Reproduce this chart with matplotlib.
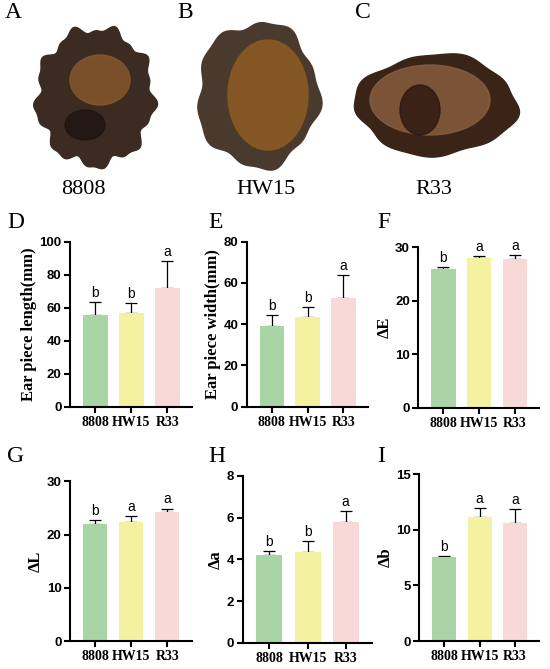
import numpy as np
import matplotlib.pyplot as plt
from matplotlib.patches import Polygon, Ellipse

# strains and bar colours
strains = ["8808", "HW15", "R33"]
bar_colors = ["#a8d4a6", "#f4f2a0", "#f9d8d8"]

# means, upper error (SD) and significance letters
length_mean = [55.8, 56.6, 71.9]
length_sd = [7.5, 6.1, 16.2]
length_sig = ["b", "b", "a"]

width_mean = [39.3, 43.3, 52.7]
width_sd = [5.0, 5.2, 11.3]
width_sig = ["b", "b", "a"]

dE_mean = [25.95, 28.0, 27.9]
dE_sd = [0.45, 0.4, 0.6]
dE_sig = ["b", "a", "a"]

dL_mean = [22.0, 22.4, 24.2]
dL_sd = [0.8, 1.15, 0.7]
dL_sig = ["b", "a", "a"]

da_mean = [4.19, 4.35, 5.77]
da_sd = [0.21, 0.51, 0.54]
da_sig = ["b", "b", "a"]

db_mean = [7.56, 11.13, 10.6]
db_sd = [0.09, 0.87, 1.3]
db_sig = ["b", "a", "a"]

W, H = 550, 669
fig = plt.figure(figsize=(5.5, 6.69), dpi=100)

SERIF = "Liberation Serif"
SANS = "Liberation Sans"


def px_rect(l, r, b, t):
    return [l / W, (H - b) / H, (r - l) / W, (b - t) / H]


def bar_panel(rect, means, sds, sigs, ymax, step, ylabel, ylsize=12):
    ax = fig.add_axes(rect)
    x = np.arange(len(strains))
    ax.bar(x, means, width=0.68, color=bar_colors, zorder=2)
    ax.errorbar(x, means, yerr=[np.zeros(len(sds)), sds], fmt="none",
                ecolor="black", elinewidth=0.9, capsize=4, capthick=0.9, zorder=1)
    for xi, m, s, lab in zip(x, means, sds, sigs):
        ax.annotate(lab, (xi, m + s), xytext=(0, 1.5), textcoords="offset points",
                    ha="center", va="bottom", fontsize=10, family=SANS)
    ax.set_xlim(-0.7, 2.68)
    ax.set_ylim(0, ymax)
    ax.set_yticks(np.arange(0, ymax + step / 2, step))
    ax.set_xticks(x)
    ax.set_xticklabels(strains, family=SERIF, fontweight="bold", fontsize=10)
    for t in ax.get_yticklabels():
        t.set_family(SANS)
        t.set_fontweight("bold")
        t.set_fontsize(9.5)
    ax.spines["top"].set_visible(False)
    ax.spines["right"].set_visible(False)
    ax.spines["left"].set_linewidth(1.5)
    ax.spines["bottom"].set_linewidth(1.5)
    ax.tick_params(axis="both", width=1.5, length=4.5, direction="out")
    ax.tick_params(axis="y", pad=1.5)
    ax.tick_params(axis="x", pad=2)
    ax.set_ylabel(ylabel, family=SERIF, fontweight="bold", fontsize=ylsize, labelpad=2)
    return ax


bar_panel(px_rect(70, 192, 406.7, 241.7), length_mean, length_sd, length_sig,
          100, 20, "Ear piece length(mm)")
bar_panel(px_rect(246.7, 367.7, 406.7, 241.7), width_mean, width_sd, width_sig,
          80, 20, "Ear piece width(mm)")
bar_panel(px_rect(418.3, 539.3, 408, 247.3), dE_mean, dE_sd, dE_sig,
          30, 10, "ΔE")
bar_panel(px_rect(70, 191.7, 641.3, 481.3), dL_mean, dL_sd, dL_sig,
          30, 10, "ΔL")
bar_panel(px_rect(242.7, 371.7, 642.7, 476), da_mean, da_sd, da_sig,
          8, 2, "Δa")
bar_panel(px_rect(419.3, 539.3, 641, 474.3), db_mean, db_sd, db_sig,
          15, 5, "Δb")

# top strip with rough sketches standing in for the photographs
top = fig.add_axes([0, 0, 1, 1], zorder=-1)
top.set_xlim(0, W)
top.set_ylim(H, 0)
top.axis("off")


def blob(cx, cy, rx, ry, k, amp, phase, n=200):
    th = np.linspace(0, 2 * np.pi, n)
    r = 1 + amp * np.sin(k * th + phase) + 0.5 * amp * np.sin((2 * k + 1) * th)
    return np.column_stack([cx + rx * r * np.cos(th), cy + ry * r * np.sin(th)])


top.add_patch(Polygon(blob(95, 97, 58, 68, 9, 0.06, 0.3), color="#3b2b22"))
top.add_patch(Ellipse((100, 80), 60, 50, color="#8a5a2e", alpha=0.8))
top.add_patch(Ellipse((85, 125), 40, 30, color="#1e1410", alpha=0.8))

top.add_patch(Polygon(blob(258, 95, 60, 72, 5, 0.05, 1.0), color="#4a3a2e"))
top.add_patch(Ellipse((268, 95), 80, 110, color="#8a5a22", alpha=0.9))

top.add_patch(Polygon(blob(436, 105, 80, 50, 4, 0.04, 0.5), color="#3a2418"))
top.add_patch(Ellipse((430, 100), 120, 70, color="#8c6040", alpha=0.8))
top.add_patch(Ellipse((420, 110), 40, 50, color="#2a1610", alpha=0.8))

for name, cx in zip(strains, [83, 266, 434]):
    top.text(cx, 189, name, ha="center", va="center", family=SERIF, fontsize=16)

panel_letters = [("A", 13, 13), ("B", 185, 13), ("C", 363, 13),
                 ("D", 16, 223), ("E", 216, 223), ("F", 384, 223),
                 ("G", 16, 457), ("H", 217, 457), ("I", 381, 457)]
for lab, lx, ly in panel_letters:
    top.text(lx, ly, lab, ha="center", va="center", family=SERIF, fontsize=17)

fig.savefig("out.png", dpi=100)
